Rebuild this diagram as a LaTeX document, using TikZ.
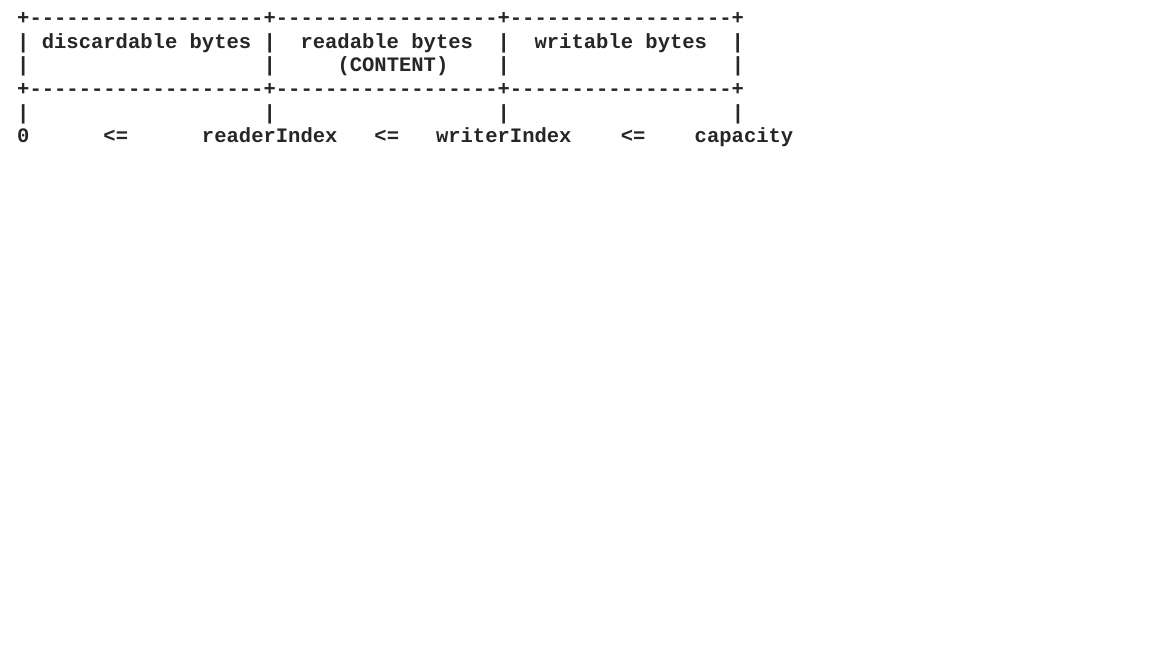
\documentclass[tikz,border=0pt]{standalone}
\usepackage{fontspec}
\setmonofont{Liberation Mono}
\ExplSyntaxOn
\cs_new:Npn \myrep #1#2 { \prg_replicate:nn {#1} {#2} }
\ExplSyntaxOff
\newcommand\blanks[1]{\hskip#1\fontdimen2\font\relax}
\begin{document}
\begin{tikzpicture}[x=1pt,y=-1pt,
  asciirow/.style={anchor=base west, inner sep=0pt, text=black!85,
    font=\ttfamily\bfseries\fontsize{20.53pt}{24pt}\selectfont}]
\useasboundingbox[fill=white] (0,0) rectangle (1152,648);
\node[asciirow] (r1) at (17,24.3) {+\myrep{19}{-}+\myrep{18}{-}+\myrep{18}{-}+};
\node[asciirow] (r2) at (17,48.0) {|\blanks{1}discardable\blanks{1}bytes\blanks{1}|\blanks{2}readable\blanks{1}bytes\blanks{2}|\blanks{2}writable\blanks{1}bytes\blanks{2}|};
\node[asciirow] (r3) at (17,71.7) {|\blanks{19}|\blanks{5}(CONTENT)\blanks{4}|\blanks{18}|};
\node[asciirow] (r4) at (17,95.4) {+\myrep{19}{-}+\myrep{18}{-}+\myrep{18}{-}+};
\node[asciirow] (r5) at (17,119.0) {|\blanks{19}|\blanks{18}|\blanks{18}|};
\node[asciirow] (r6) at (17,142.7) {0\blanks{6}<=\blanks{6}readerIndex\blanks{3}<=\blanks{3}writerIndex\blanks{4}<=\blanks{4}capacity};
\end{tikzpicture}
\end{document}
